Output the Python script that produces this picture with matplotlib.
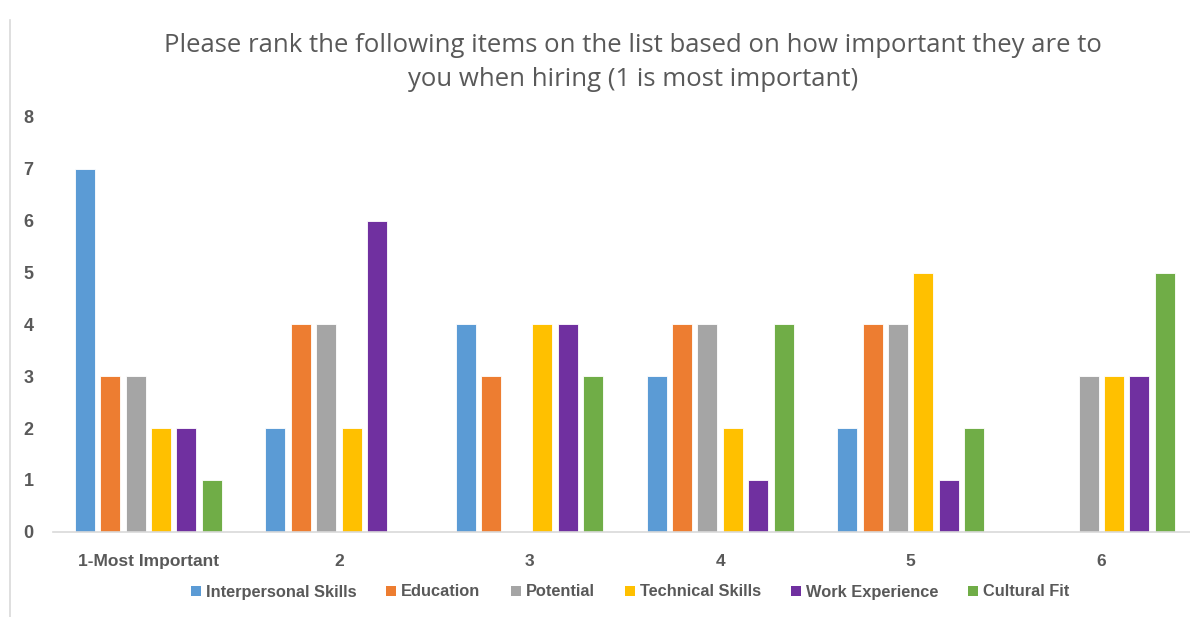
import matplotlib
matplotlib.use("Agg")
import matplotlib.pyplot as plt
from matplotlib.lines import Line2D
from matplotlib.patches import Rectangle
import numpy as np

# Survey data
categories = ["1-Most Important", "2", "3", "4", "5", "6"]
series_names = ["Interpersonal Skills", "Education", "Potential",
                "Technical Skills", "Work Experience", "Cultural Fit"]
interpersonal = [7, 2, 4, 3, 2, 0]
education = [3, 4, 3, 4, 4, 0]
potential = [3, 4, 0, 4, 4, 3]
technical = [2, 2, 4, 2, 5, 3]
work_exp = [2, 6, 4, 1, 1, 3]
cultural = [1, 0, 3, 4, 2, 5]
series_values = [interpersonal, education, potential, technical, work_exp, cultural]

COLORS = ["#5B9BD5", "#ED7D31", "#A5A5A5", "#FFC000", "#7030A0", "#70AD47"]
COLOR_TEXT = "#595959"
COLOR_LINE = "#D9D9D9"

plt.rcParams.update({
    "font.family": ["Liberation Sans", "DejaVu Sans"],
})

W, H = 1190, 617
fig = plt.figure(figsize=(W / 100, H / 100), dpi=100)
fig.patch.set_facecolor("white")

# plot area: x 53 .. 1190 px (chart cropped at right), y zero at 531.7, 8 at 117
y0, y8 = 531.7, 117.0
ax = fig.add_axes([53 / W, (H - y0) / H, (W - 53) / W, (y0 - y8) / H])
px_per_cat = 190.6
x = np.arange(len(categories))
pitch = 25.4 / px_per_cat
bw = 20.0 / px_per_cat
for i, (name, vals) in enumerate(zip(series_names, series_values)):
    ax.bar(x + (i - 2.5) * pitch, vals, width=bw, color=COLORS[i],
           edgecolor="white", linewidth=0.6, label=name, zorder=2)

ax.set_xlim(-0.5, -0.5 + (W - 53) / px_per_cat)
ax.set_ylim(0, 8)
ax.set_yticks(range(0, 9))
ax.set_xticks(x)
ax.set_xticklabels(categories)
for s in ["top", "right", "left"]:
    ax.spines[s].set_visible(False)
ax.spines["bottom"].set_color(COLOR_LINE)
ax.spines["bottom"].set_linewidth(1.2)
ax.tick_params(axis="both", length=0, colors=COLOR_TEXT)
ax.tick_params(axis="x", pad=16, labelsize=12.5)
ax.tick_params(axis="y", pad=14, labelsize=13)
for lbl in ax.get_xticklabels() + ax.get_yticklabels():
    lbl.set_fontweight("bold")
    lbl.set_color(COLOR_TEXT)

title_font = dict(ha="center", va="center", fontsize=18.5, color=COLOR_TEXT,
                  family=["Open Sans", "DejaVu Sans"])
fig.text(633 / W, 1 - 45 / H,
         "Please rank the following items on the list based on how important they are to",
         **title_font)
fig.text(633 / W, 1 - 80 / H, "you when hiring (1 is most important)", **title_font)

# Legend drawn by hand so all labels share one baseline (Excel style).
renderer = fig.canvas.get_renderer()
sq, pad_txt, gap = 10, 5, 30
leg_y = 591
texts, widths = [], []
for name in series_names:
    t = fig.text(0, 1 - (leg_y + 5.5) / H, name, fontsize=11.8, fontweight="bold",
                 color=COLOR_TEXT, va="baseline", ha="left")
    texts.append(t)
    widths.append(t.get_window_extent(renderer).width)
total = sum(sq + pad_txt + w for w in widths) + gap * (len(widths) - 1)
cx = 630 - total / 2
for color, t, w in zip(COLORS, texts, widths):
    fig.add_artist(Rectangle((cx / W, 1 - (leg_y + sq / 2) / H), sq / W, sq / H,
                             transform=fig.transFigure, color=color, lw=0))
    t.set_x((cx + sq + pad_txt) / W)
    cx += sq + pad_txt + w + gap

# left border of the chart box
fig.add_artist(Line2D([10 / W, 10 / W], [0, 1 - 20 / H], transform=fig.transFigure,
                      color=COLOR_LINE, linewidth=1.2))

fig.savefig("out.png", dpi=100, facecolor="white")
